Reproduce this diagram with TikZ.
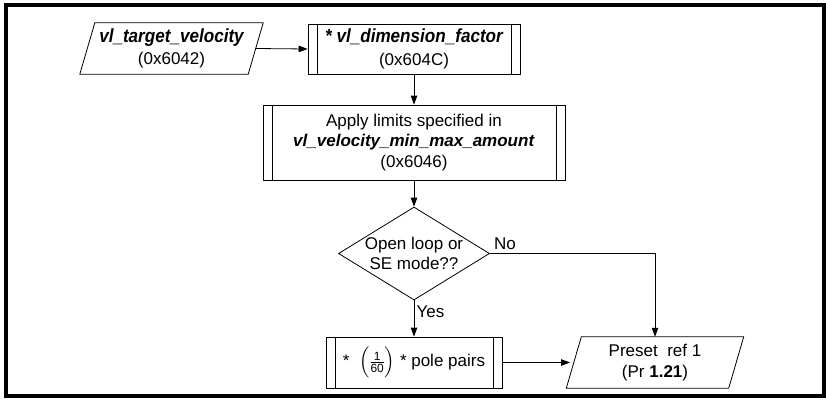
\documentclass[tikz,border=0pt]{standalone}
\usepackage{amsmath}
\usepackage{graphicx}
\usepackage{fontspec}
\setmainfont{Liberation Sans}
\usetikzlibrary{shapes.geometric,arrows.meta,calc}
\newcommand{\bigvar}[1]{{\fontsize{19}{22}\selectfont\bfseries\itshape\scalebox{0.9}[1]{#1}}}
\begin{document}
\begin{tikzpicture}[x=1pt,y=-1pt,
  every node/.style={font=\fontsize{17}{20.5}\selectfont, align=center, inner sep=0pt},
  thin line/.style={line width=0.8pt},
  proc/.style={draw, thin line,
    path picture={\draw[thin line]
      ([xshift=9pt]path picture bounding box.north west) -- ([xshift=9pt]path picture bounding box.south west)
      ([xshift=-9pt]path picture bounding box.north east) -- ([xshift=-9pt]path picture bounding box.south east);}},
  io/.style={minimum height=51pt},
  arr/.style={thin line, -{Triangle[length=9pt,width=6.5pt]}}
]
\useasboundingbox (0,0) rectangle (826,400);
\draw[line width=4pt] (5.5,5) rectangle (823.5,395.5);

% input parallelogram
\node[io, minimum width=168pt] (in1) at (171.5,48.5)
  {\bigvar{vl\_target\_velocity}\\[2pt](0x6042)};
\draw[thin line] ([xshift=7.5pt]in1.north west) -- ([xshift=7.5pt]in1.north east)
  -- ([xshift=-7.5pt]in1.south east) -- ([xshift=-7.5pt]in1.south west) -- cycle;

% dimension factor
\node[proc, minimum width=212pt, minimum height=50pt] (dim) at (414,49)
  {\bigvar{* vl\_dimension\_factor}\\[2pt](0x604C)};

% limits
\node[proc, minimum width=302pt, minimum height=75pt] (lim) at (414,142.5)
  {Apply limits specified in\\\textbf{\textit{vl\_velocity\_min\_max\_amount}}\\(0x6046)};

% decision
\node[diamond, draw, thin line, minimum width=151pt, minimum height=93pt] (dec) at (414,253.5) {};
\node (dectext) at (414,253.5) {Open loop or\\SE mode??};

% pole pairs
\node[proc, minimum width=176pt, minimum height=51pt] (pole) at (414,362.5)
  {*\; $\Bigl(\frac{\text{1}}{\text{60}}\Bigr)$ * pole pairs};

% preset
\node[io, minimum width=162pt] (pre) at (655,362.5)
  {Preset~ ref 1\\(Pr \textbf{1.21})};
\draw[thin line] ([xshift=7.5pt]pre.north west) -- ([xshift=7.5pt]pre.north east)
  -- ([xshift=-7.5pt]pre.south east) -- ([xshift=-7.5pt]pre.south west) -- cycle;

% connectors
\draw[arr] (in1.east) -- (dim.west);
\draw[arr] (dim.south) -- (lim.north);
\draw[arr] (lim.south) -- (dec.north);
\draw[arr] (dec.south) -- (pole.north);
\draw[arr] (dec.east) -| (pre.north);
\draw[arr] (pole.east) -- ([xshift=-3.75pt]pre.west);

% labels
\node[anchor=base west] (nolbl) at ([xshift=4pt,yshift=4.5pt]dec.east) {No};
\node[anchor=base west] (yeslbl) at ([xshift=2.5pt,yshift=-17pt]dec.south) {Yes};
\end{tikzpicture}
\end{document}
